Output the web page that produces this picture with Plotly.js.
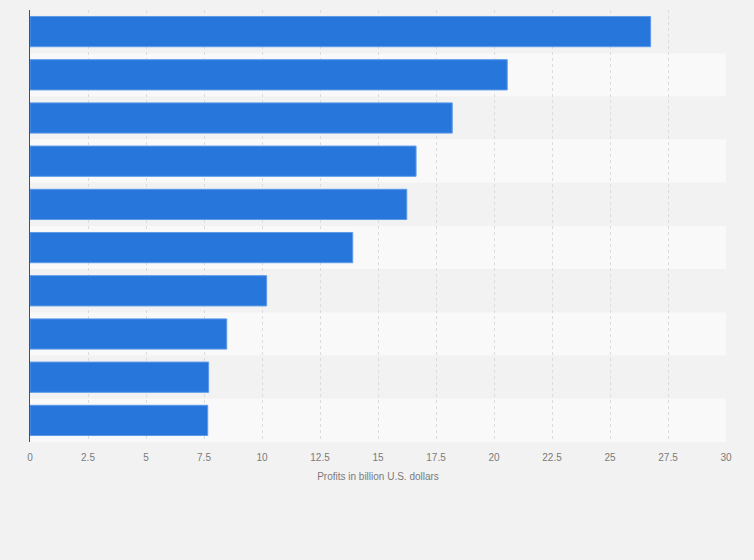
<!DOCTYPE html>
<html>
<head>
<meta charset="utf-8">
<script src="https://cdn.plot.ly/plotly-3.0.1.min.js"></script>
<style>html,body{margin:0;padding:0;background:#f2f2f2;}#chart{width:754px;height:560px;}</style>
</head>
<body>
<div id="chart"></div>
<script>
const categories = ["Company 1","Company 2","Company 3","Company 4","Company 5","Company 6","Company 7","Company 8","Company 9","Company 10"];
const profits = [26.75, 20.57, 18.2, 16.64, 16.24, 13.91, 10.2, 8.48, 7.7, 7.66];
const tickValues = [0, 2.5, 5, 7.5, 10, 12.5, 15, 17.5, 20, 22.5, 25, 27.5, 30];
const tickLabels = ["0","2.5","5","7.5","10","12.5","15","17.5","20","22.5","25","27.5","30"];

const shapes = categories.map((c, i) => ({
  type: 'rect', xref: 'paper', yref: 'y', layer: 'below',
  x0: 0, x1: 1, y0: i - 0.5, y1: i + 0.5,
  fillcolor: i % 2 === 0 ? '#f2f2f2' : '#f9f9f9', line: {width: 0}
}));

const trace = {
  type: 'bar', orientation: 'h',
  y: categories.map((c, i) => i), x: profits,
  marker: {color: '#2776dc', line: {color: '#5d9ae8', width: 1}},
  width: 0.7,
  hoverinfo: 'x'
};

const layout = {
  width: 754, height: 560,
  margin: {l: 30, r: 28, t: 10, b: 118},
  paper_bgcolor: '#f2f2f2', plot_bgcolor: '#f2f2f2',
  showlegend: false,
  shapes: shapes,
  xaxis: {
    range: [0, 30], tickvals: tickValues, ticktext: tickLabels,
    showgrid: true, gridcolor: '#dcdcdc', griddash: 'dot', gridwidth: 1,
    zeroline: false, showline: false, ticks: '',
    ticklabelstandoff: 8,
    tickfont: {family: 'Arial, Liberation Sans, sans-serif', size: 10, color: '#7a7a7a'},
    title: {text: 'Profits in billion U.S. dollars', standoff: 10,
      font: {family: 'Arial, Liberation Sans, sans-serif', size: 10, color: '#7a7a7a'}},
    fixedrange: true
  },
  yaxis: {
    range: [9.5, -0.5], tickvals: categories.map((c, i) => i), ticktext: categories,
    showticklabels: false, showgrid: false, zeroline: false,
    showline: true, linecolor: '#4d4d4d', linewidth: 1.5, ticks: '',
    fixedrange: true
  }
};

Plotly.newPlot('chart', [trace], layout, {displayModeBar: false, staticPlot: true});
</script>
</body>
</html>
